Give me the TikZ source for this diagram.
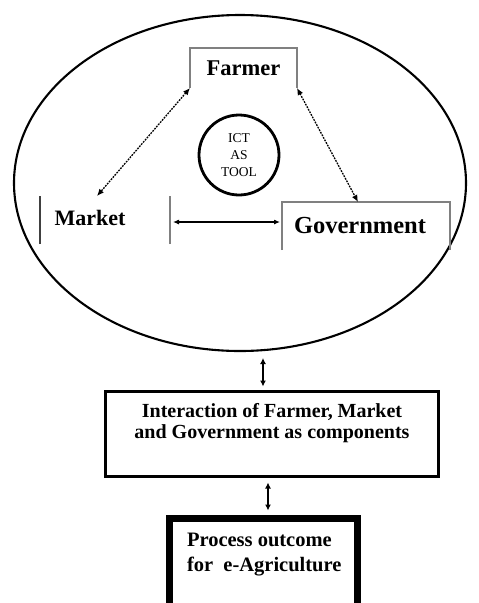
\documentclass[tikz,border=0pt]{standalone}
\usepackage{fontspec}
\setmainfont{Liberation Serif}
\usetikzlibrary{shapes.geometric,arrows.meta}
\begin{document}
\begin{tikzpicture}[x=1pt,y=-1pt,
  every node/.style={inner sep=0pt, outer sep=0pt},
  actor/.style={font=\fontsize{22.5}{24}\selectfont\bfseries},
  sidebar/.style={draw=black!50, line width=1.1pt},
  dotlink/.style={line width=1.3pt, dash pattern=on 1.8pt off 1.1pt, {Latex[length=7pt,width=6pt]}-{Latex[length=7pt,width=6pt]}},
  solidlink/.style={line width=1.1pt, {Latex[length=6pt,width=5pt]}-{Latex[length=6pt,width=5pt]}},
  flowlink/.style={line width=2pt, {Latex[length=6pt,width=6pt]}-{Latex[length=6pt,width=6pt]}},
  frame/.style={draw, line width=3pt},
]
\useasboundingbox (0,0) rectangle (479,603);

% surrounding environment
\node[draw, ellipse, line width=2.1pt, minimum width=452pt, minimum height=336pt] (env) at (240,183) {};

% ICT hub
\node[draw, circle, line width=2.8pt, minimum size=80pt, align=center,
      font=\fontsize{13.5}{17}\selectfont] (ict) at (239,155) {ICT\\AS\\TOOL};

% Farmer
\node[actor, minimum width=107pt, minimum height=40pt] (farmer) at (243.5,68) {Farmer};
\draw[sidebar] (farmer.south west) -- (farmer.north west) -- (farmer.north east) -- (farmer.south east);

% Market
\node[minimum width=130pt, minimum height=48pt] (market) at (105,220) {};
\node[actor, font=\fontsize{22}{24}\selectfont\bfseries] (marketlabel) at (90,218) {Market};
\draw[draw=black!75, line width=1.6pt] (market.south west) -- (market.north west);
\draw[sidebar] (market.south east) -- (market.north east);

% Government
\node[minimum width=168pt, minimum height=48pt] (gov) at (366,226) {};
\node[font=\fontsize{24.5}{26}\selectfont\bfseries] (govlabel) at (360,226) {Government};
\draw[sidebar] (gov.south west) -- (gov.north west) -- (gov.north east) -- (gov.south east);

% links between the actors
\draw[dotlink] (farmer.south west) -- ([xshift=-8pt]market.north);
\draw[dotlink] (farmer.south east) -- ([xshift=-8pt]gov.north);
\path ([xshift=3pt,yshift=-2pt]market.east) coordinate (mg);
\draw[solidlink] (mg) -- ([xshift=-2pt]mg -| gov.west);

% interaction box
\node[frame, minimum width=333pt, minimum height=85pt] (inter) at (272,434) {};
\node[align=center, font=\fontsize{20}{21}\selectfont\bfseries] (interlabel) at (272,423)
  {Interaction of Farmer, Market\\and Government as components};

% outcome box
\node[draw, line width=6.5pt, minimum width=188pt, minimum height=94pt] (proc) at (263.5,565.5) {};
\node[anchor=west, align=left, font=\fontsize{20.5}{25}\selectfont\bfseries] (proclabel) at (187,554.5)
  {Process outcome\\for\ \ e-Agriculture};

% flow between stages
\draw[flowlink] ([xshift=23pt,yshift=-7pt]env.south) -- ([xshift=-9pt,yshift=5pt]inter.north);
\draw[flowlink] ([xshift=-4pt,yshift=-6pt]inter.south) -- ([xshift=4.5pt,yshift=8pt]proc.north);
\end{tikzpicture}
\end{document}
